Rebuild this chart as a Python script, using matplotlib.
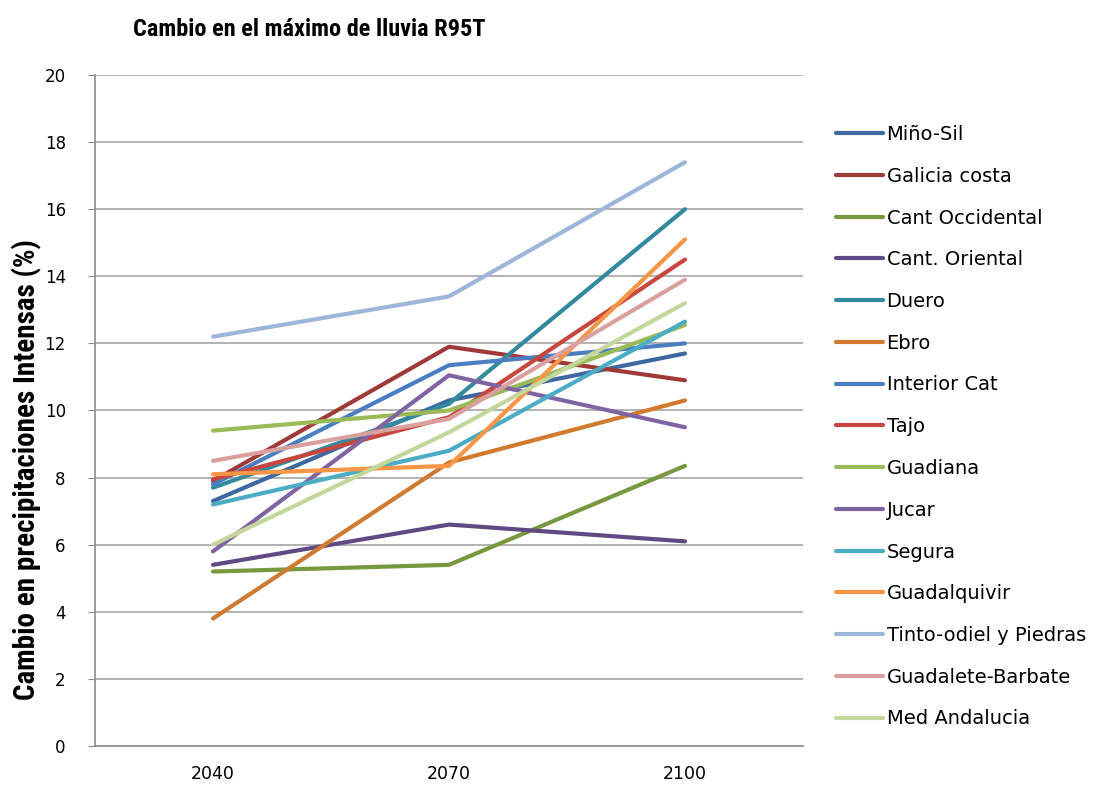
import matplotlib
matplotlib.use("Agg")
import matplotlib.pyplot as plt
from matplotlib import font_manager

# ----- datos -----
years = ["2040", "2070", "2100"]

mino_sil = [7.3, 10.3, 11.7]
galicia_costa = [7.9, 11.9, 10.9]
cant_occidental = [5.2, 5.4, 8.35]
cant_oriental = [5.4, 6.6, 6.1]
duero = [7.7, 10.2, 16.0]
ebro = [3.8, 8.45, 10.3]
interior_cat = [7.8, 11.35, 12.0]
tajo = [7.95, 9.8, 14.5]
guadiana = [9.4, 10.0, 12.55]
jucar = [5.8, 11.05, 9.5]
segura = [7.2, 8.8, 12.65]
guadalquivir = [8.1, 8.35, 15.1]
tinto_odiel = [12.2, 13.4, 17.4]
guadalete = [8.5, 9.75, 13.9]
med_andalucia = [6.0, 9.35, 13.2]

series = [
    ("Miño-Sil", mino_sil, "#3D68A0"),
    ("Galicia costa", galicia_costa, "#A03A38"),
    ("Cant Occidental", cant_occidental, "#77983F"),
    ("Cant. Oriental", cant_oriental, "#614983"),
    ("Duero", duero, "#338A9E"),
    ("Ebro", ebro, "#D07A30"),
    ("Interior Cat", interior_cat, "#4A7EC0"),
    ("Tajo", tajo, "#C9463F"),
    ("Guadiana", guadiana, "#9BBB59"),
    ("Jucar", jucar, "#8064A2"),
    ("Segura", segura, "#4BACC6"),
    ("Guadalquivir", guadalquivir, "#F79646"),
    ("Tinto-odiel y Piedras", tinto_odiel, "#9DB5D8"),
    ("Guadalete-Barbate", guadalete, "#D9A09E"),
    ("Med Andalucia", med_andalucia, "#C3D69B"),
]

# fuente condensada si existe
names = {f.name for f in font_manager.fontManager.ttflist}
cond_stretch = "normal"
for cand in ["DejaVu Sans Condensed", "Liberation Sans Narrow", "Roboto Condensed"]:
    if cand in names:
        cond = [cand, "DejaVu Sans"]
        break
else:
    cond = ["DejaVu Sans"]
    cond_stretch = "condensed"

# ----- figura -----
fig = plt.figure(figsize=(10.97, 7.85), dpi=100)
ax = fig.add_axes([95 / 1097, 1 - 746 / 785, (803 - 95) / 1097, (746 - 75) / 785])

x = list(range(len(years)))
for name, vals, col in series:
    ax.plot(x, vals, color=col, lw=3, label=name, solid_capstyle="round")

ax.set_xlim(-0.5, 2.5)
ax.set_ylim(0, 20)
ax.set_yticks(range(0, 21, 2))
ax.set_xticks(x)
ax.set_xticklabels(years)
ax.yaxis.grid(True, color="#A6A6A6", lw=1.2)
ax.set_axisbelow(True)
for s in ["top", "right"]:
    ax.spines[s].set_visible(False)
for s in ["left", "bottom"]:
    ax.spines[s].set_color("#8C8C8C")
    ax.spines[s].set_linewidth(1.2)
ax.tick_params(axis="y", length=5, color="#8C8C8C", labelsize=12, pad=16)
ax.tick_params(axis="x", length=0, labelsize=12.5, pad=14)

ax.legend(loc="upper left", bbox_to_anchor=(836 / 1097, 1 - 125 / 785),
          bbox_transform=fig.transFigure, frameon=False, fontsize=14,
          handlelength=2.4, handletextpad=0.2, labelspacing=1.17,
          borderaxespad=0, borderpad=0)

fig.text(133 / 1097, 1 - 30 / 785, "Cambio en el máximo de lluvia R95T",
         ha="left", va="center", fontsize=17.5, fontweight="bold", family=cond,
         fontstretch=cond_stretch)
fig.text(27 / 1097, 1 - 470 / 785, "Cambio en precipitaciones Intensas (%)",
         ha="center", va="center", rotation=90, fontsize=21,
         fontweight="bold", family=cond, fontstretch=cond_stretch)

fig.savefig("out.png", dpi=100)
